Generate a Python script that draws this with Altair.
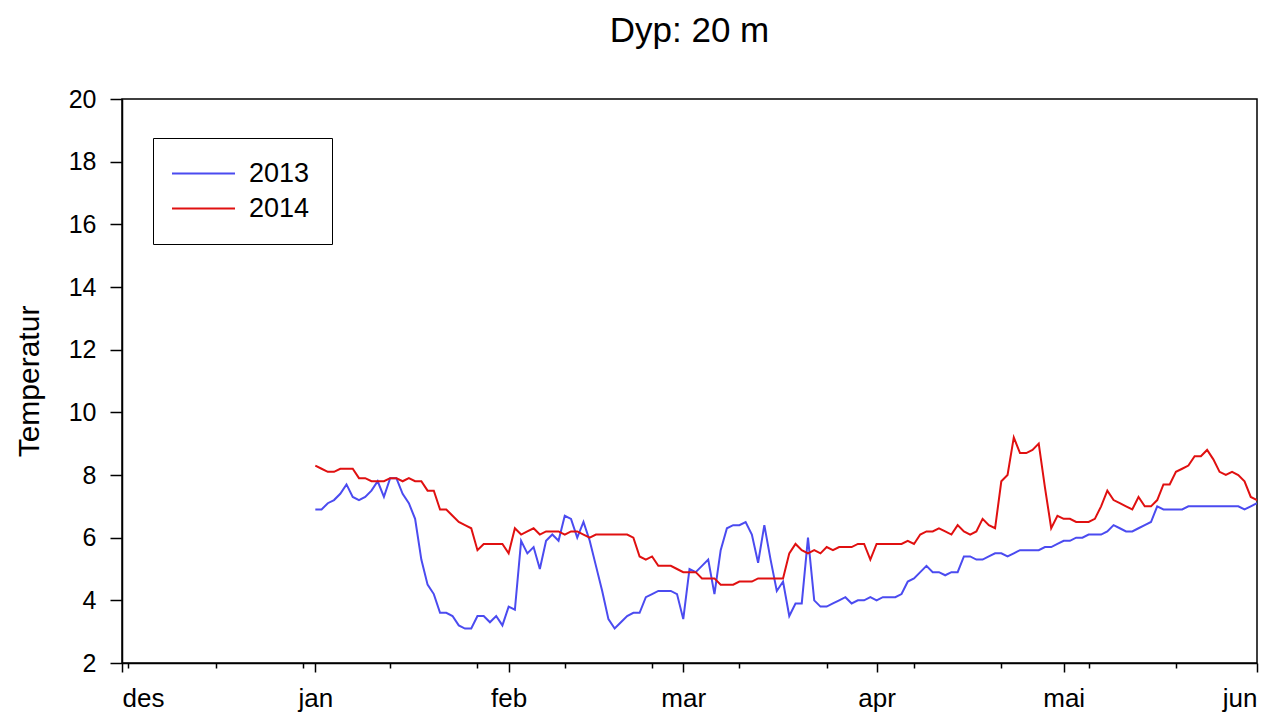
import altair as alt
import pandas as pd

# Daily temperatures at 20 m, 1 Jan .. 1 Jun (152 days)
temp_2013 = [
    6.9, 6.9, 7.1, 7.2, 7.4, 7.7, 7.3, 7.2, 7.3, 7.5,
    7.8, 7.3, 7.9, 7.9, 7.4, 7.1, 6.6, 5.3, 4.5, 4.2,
    3.6, 3.6, 3.5, 3.2, 3.1, 3.1, 3.5, 3.5, 3.3, 3.5,
    3.2, 3.8, 3.7, 5.9, 5.5, 5.7, 5.0, 5.9, 6.1, 5.9,
    6.7, 6.6, 6.0, 6.5, 5.9, 5.1, 4.3, 3.4, 3.1, 3.3,
    3.5, 3.6, 3.6, 4.1, 4.2, 4.3, 4.3, 4.3, 4.2, 3.4,
    5.0, 4.9, 5.1, 5.3, 4.2, 5.6, 6.3, 6.4, 6.4, 6.5,
    6.1, 5.2, 6.4, 5.3, 4.3, 4.6, 3.5, 3.9, 3.9, 6.0,
    4.0, 3.8, 3.8, 3.9, 4.0, 4.1, 3.9, 4.0, 4.0, 4.1,
    4.0, 4.1, 4.1, 4.1, 4.2, 4.6, 4.7, 4.9, 5.1, 4.9,
    4.9, 4.8, 4.9, 4.9, 5.4, 5.4, 5.3, 5.3, 5.4, 5.5,
    5.5, 5.4, 5.5, 5.6, 5.6, 5.6, 5.6, 5.7, 5.7, 5.8,
    5.9, 5.9, 6.0, 6.0, 6.1, 6.1, 6.1, 6.2, 6.4, 6.3,
    6.2, 6.2, 6.3, 6.4, 6.5, 7.0, 6.9, 6.9, 6.9, 6.9,
    7.0, 7.0, 7.0, 7.0, 7.0, 7.0, 7.0, 7.0, 7.0, 6.9,
    7.0, 7.1,
]
temp_2014 = [
    8.3, 8.2, 8.1, 8.1, 8.2, 8.2, 8.2, 7.9, 7.9, 7.8,
    7.8, 7.8, 7.9, 7.9, 7.8, 7.9, 7.8, 7.8, 7.5, 7.5,
    6.9, 6.9, 6.7, 6.5, 6.4, 6.3, 5.6, 5.8, 5.8, 5.8,
    5.8, 5.5, 6.3, 6.1, 6.2, 6.3, 6.1, 6.2, 6.2, 6.2,
    6.1, 6.2, 6.2, 6.1, 6.0, 6.1, 6.1, 6.1, 6.1, 6.1,
    6.1, 6.0, 5.4, 5.3, 5.4, 5.1, 5.1, 5.1, 5.0, 4.9,
    4.9, 4.9, 4.7, 4.7, 4.7, 4.5, 4.5, 4.5, 4.6, 4.6,
    4.6, 4.7, 4.7, 4.7, 4.7, 4.7, 5.5, 5.8, 5.6, 5.5,
    5.6, 5.5, 5.7, 5.6, 5.7, 5.7, 5.7, 5.8, 5.8, 5.3,
    5.8, 5.8, 5.8, 5.8, 5.8, 5.9, 5.8, 6.1, 6.2, 6.2,
    6.3, 6.2, 6.1, 6.4, 6.2, 6.1, 6.2, 6.6, 6.4, 6.3,
    7.8, 8.0, 9.2, 8.7, 8.7, 8.8, 9.0, 7.6, 6.3, 6.7,
    6.6, 6.6, 6.5, 6.5, 6.5, 6.6, 7.0, 7.5, 7.2, 7.1,
    7.0, 6.9, 7.3, 7.0, 7.0, 7.2, 7.7, 7.7, 8.1, 8.2,
    8.3, 8.6, 8.6, 8.8, 8.5, 8.1, 8.0, 8.1, 8.0, 7.8,
    7.3, 7.2,
]
series_names = ["2013", "2014"]
series_colors = ["#4B4BF0", "#E01010"]

# Axis ticks / labels (common season axis: des .. jun)
month_ticks = ["2012-12-01", "2013-01-01", "2013-02-01", "2013-03-01",
               "2013-04-01", "2013-05-01", "2013-06-01"]
minor_ticks = ["2012-12-02", "2012-12-16", "2012-12-30", "2013-01-13",
               "2013-01-27", "2013-02-10", "2013-02-24", "2013-03-10",
               "2013-03-24", "2013-04-07", "2013-04-21", "2013-05-05",
               "2013-05-19"]
month_names = ["jan", "feb", "mar", "apr", "mai", "jun",
               "jul", "aug", "sep", "okt", "nov", "des"]
y_ticks = [2, 4, 6, 8, 10, 12, 14, 16, 18, 20]

FONT = "Liberation Sans"

days = pd.date_range("2013-01-01", periods=len(temp_2013), freq="D").strftime("%Y-%m-%d")
rows = []
for name, vals in zip(series_names, [temp_2013, temp_2014]):
    for d, v in zip(days, vals):
        rows.append({"dato": d, "Temperatur": v, "År": name})
df = pd.DataFrame(rows)
minor_df = pd.DataFrame({"dato": minor_ticks})


def dt(s):
    y, m, d = (int(p) for p in s.split("-"))
    return alt.DateTime(year=y, month=m, date=d, utc=True)


x_scale = alt.Scale(type="utc", domain=[dt(month_ticks[0]), dt(month_ticks[-1])])
label_expr = "[" + ",".join("'%s'" % m for m in month_names) + "][utcmonth(datum.value)]"

lines = alt.Chart(df).mark_line(strokeWidth=2, clip=True).encode(
    x=alt.X("dato:T", scale=x_scale, title=None,
            axis=alt.Axis(values=[dt(s) for s in month_ticks], labelExpr=label_expr,
                          orient="bottom", tickSize=9, labelFontSize=26, labelPadding=13,
                          labelFont=FONT, domainColor="black", tickColor="black",
                          domainWidth=1.5, tickWidth=1.5, labelColor="black",
                          grid=False)),
    y=alt.Y("Temperatur:Q", scale=alt.Scale(domain=[2, 20], nice=False, zero=False),
            axis=alt.Axis(values=y_ticks, tickSize=12, labelFontSize=25, labelPadding=14,
                          labelFont=FONT, titleFont=FONT, titleFontSize=30,
                          titleFontWeight="normal", titlePadding=24,
                          domainColor="black", tickColor="black", domainWidth=1.5,
                          tickWidth=1.5, labelColor="black", titleColor="black",
                          grid=False)),
    color=alt.Color("År:N", scale=alt.Scale(domain=series_names, range=series_colors),
                    legend=alt.Legend(orient="none", legendX=31, legendY=39, title=None,
                                      strokeColor="black", fillColor="white",
                                      padding=22, symbolType="M-3,0H3", symbolSize=441,
                                      symbolOffset=15, symbolStrokeWidth=2,
                                      labelFontSize=27, labelFont=FONT,
                                      labelColor="black", labelOffset=32, rowPadding=7)),
)

minor = alt.Chart(minor_df).mark_point(opacity=0).encode(
    x=alt.X("dato:T", scale=x_scale, title=None,
            axis=alt.Axis(values=[dt(s) for s in minor_ticks], labels=False, domain=False,
                          orient="bottom", tickSize=5, tickColor="black", tickWidth=1.5,
                          grid=False)),
)

chart = alt.layer(lines, minor).resolve_axis(x="independent").properties(
    width=1135, height=564,
    title=alt.Title("Dyp: 20 m", fontSize=35, font=FONT, fontWeight="normal",
                    color="black", anchor="middle", offset=38),
    autosize=alt.AutoSizeParams(type="none"),
    padding={"left": 114, "top": 91, "right": 10, "bottom": 50},
).configure_view(stroke="black", strokeWidth=1.5)

chart.save("out.html", embed_options={"renderer": "svg", "actions": False})
